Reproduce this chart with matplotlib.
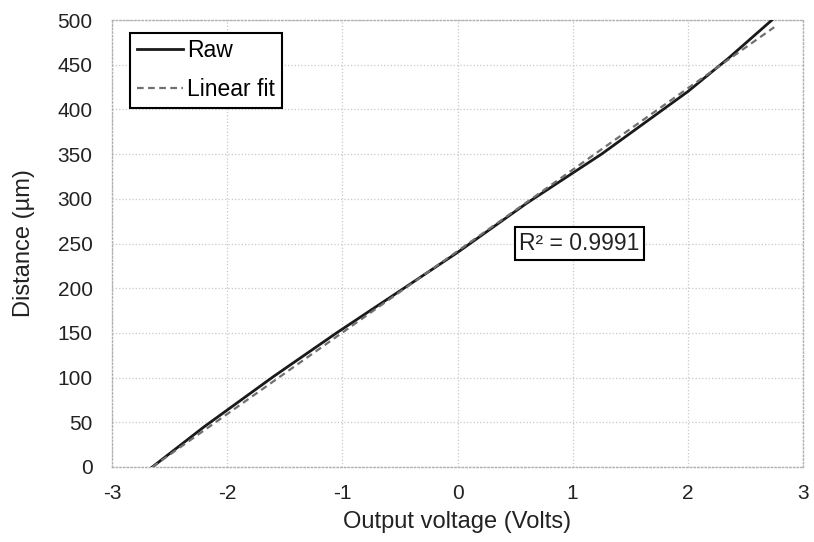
import numpy as np
import matplotlib.pyplot as plt

plt.rcParams['font.family'] = ['Liberation Sans', 'DejaVu Sans']
plt.rcParams['axes.unicode_minus'] = False

voltage = [-2.65, -2.2, -1.6, -1.05, -0.5, 0.0, 0.6, 1.25, 2.0, 2.35, 2.73]
distance = [0, 45, 101, 150, 197, 240, 295, 350, 420, 457, 500]

# linear fit line
fit_x = [-2.65, 2.75]
fit_y = [0, 492]
r2_text = 'R² = 0.9991'

fig = plt.figure(figsize=(8.14, 5.42), dpi=100)
ax = fig.add_axes([0.1376, 0.1384, 0.8489, 0.8246])

ax.plot(voltage, distance, color='#1a1a1a', lw=2.0, label='Raw', zorder=3)
ax.plot(fit_x, fit_y, color='#707070', lw=1.6, ls=(0, (3, 2)), label='Linear fit', zorder=4)

ax.set_xlim(-3, 3)
ax.set_ylim(0, 500)
ax.set_xticks(range(-3, 4))
ax.set_yticks(range(0, 501, 50))
ax.grid(True, color='#c8c8c8', ls=':', lw=0.9)
for s in ax.spines.values():
    s.set_color('#b0b0b0')
    s.set_linestyle(':')
    s.set_linewidth(1.0)
ax.tick_params(axis='y', length=0, labelsize=15, pad=14, colors='#222222')
ax.tick_params(axis='x', length=0, labelsize=15, pad=12, colors='#222222')

ax.set_xlabel('Output voltage (Volts)', fontsize=17, color='#222222')
ax.set_ylabel('Distance (µm)', fontsize=17, color='#222222')
ax.xaxis.set_label_coords(0.5, -0.098)
ax.yaxis.set_label_coords(-0.111, 0.5)

leg = ax.legend(loc='upper left', bbox_to_anchor=(0.026, 0.972), fontsize=16.5,
                frameon=True, fancybox=False, framealpha=1, handlelength=2.0,
                handletextpad=0.2, borderpad=0.3, labelspacing=0.7, borderaxespad=0)
leg.get_frame().set_edgecolor('black')
leg.get_frame().set_linewidth(1.5)

ax.text(1.06, 250, r2_text, fontsize=16.5, ha='center', va='center', color='#222222',
        bbox=dict(boxstyle='square,pad=0.2', fc='white', ec='black', lw=1.5), zorder=5)

fig.savefig('out.png', dpi=100)
